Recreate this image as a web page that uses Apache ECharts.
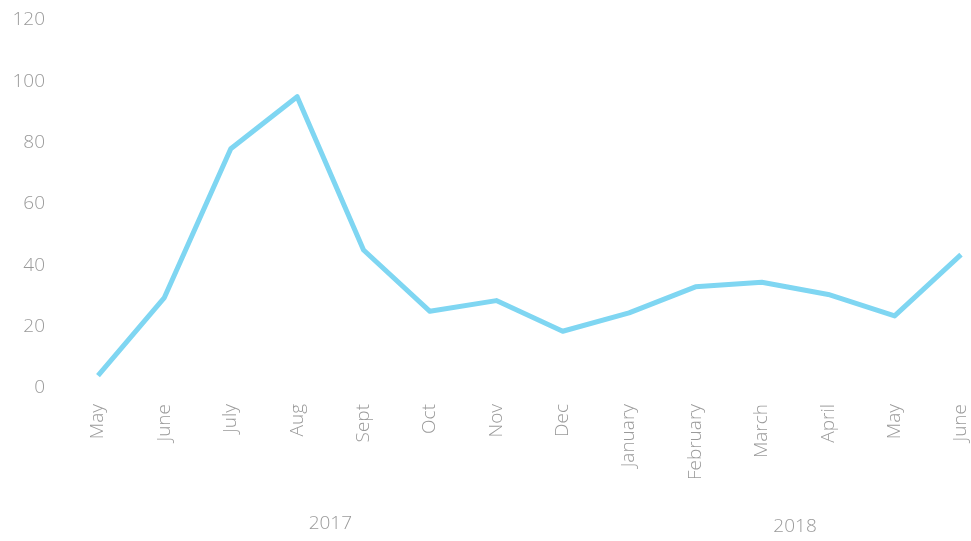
<!DOCTYPE html>
<html>
<head>
<meta charset="utf-8">
<script src="https://cdn.jsdelivr.net/npm/echarts@6/dist/echarts.min.js"></script>
<style>
  html, body { margin: 0; padding: 0; background: #ffffff; }
  #chart { width: 971px; height: 541px; }
</style>
</head>
<body>
<div id="chart"></div>
<script>
// Monthly values, May 2017 to June 2018
const months = ['May', 'June', 'July', 'Aug', 'Sept', 'Oct', 'Nov', 'Dec',
                'January', 'February', 'March', 'April', 'May', 'June'];
const values = [4, 29.5, 78, 95, 45, 25, 28.5, 18.5, 24.5, 33, 34.5, 30.5, 23.5, 43.5];

// Year groups: label plus first and last month index it spans
const years = ['2017', '2018'];
const yearStart = [0, 8];
const yearEnd = [7, 13];

const labelColor = '#9a9a9a';
const fontFamily = "'Open Sans', 'Noto Sans', sans-serif";

const chart = echarts.init(document.getElementById('chart'));

chart.setOption({
  animation: false,
  backgroundColor: '#ffffff',
  grid: { left: 98, right: 10, top: 20, bottom: 153 },
  xAxis: {
    type: 'category',
    data: months,
    boundaryGap: false,
    axisLine: { show: false },
    axisTick: { show: false },
    axisLabel: {
      rotate: 90,
      margin: 16,
      color: labelColor,
      fontSize: 19,
      fontWeight: 300,
      fontFamily: fontFamily,
      interval: 0
    },
    splitLine: { show: false }
  },
  yAxis: {
    type: 'value',
    min: 0,
    max: 120,
    interval: 20,
    axisLine: { show: false },
    axisTick: { show: false },
    splitLine: { show: false },
    axisLabel: {
      margin: 53,
      color: labelColor,
      fontSize: 19,
      fontWeight: 300,
      fontFamily: fontFamily
    }
  },
  series: [{
    type: 'line',
    data: values,
    symbol: 'none',
    lineStyle: { color: '#7fd6f2', width: 5, join: 'round' }
  }]
});

// Year captions centred under each group of months
const yearGraphics = years.map(function (y, i) {
  const x0 = chart.convertToPixel({ xAxisIndex: 0 }, yearStart[i]);
  const x1 = chart.convertToPixel({ xAxisIndex: 0 }, yearEnd[i]);
  return {
    type: 'text',
    x: (x0 + x1) / 2,
    y: 524 + i * 3,
    style: {
      text: y,
      fill: labelColor,
      font: '300 19px ' + fontFamily,
      align: 'center',
      verticalAlign: 'middle'
    }
  };
});
chart.setOption({ graphic: yearGraphics });
</script>
</body>
</html>
